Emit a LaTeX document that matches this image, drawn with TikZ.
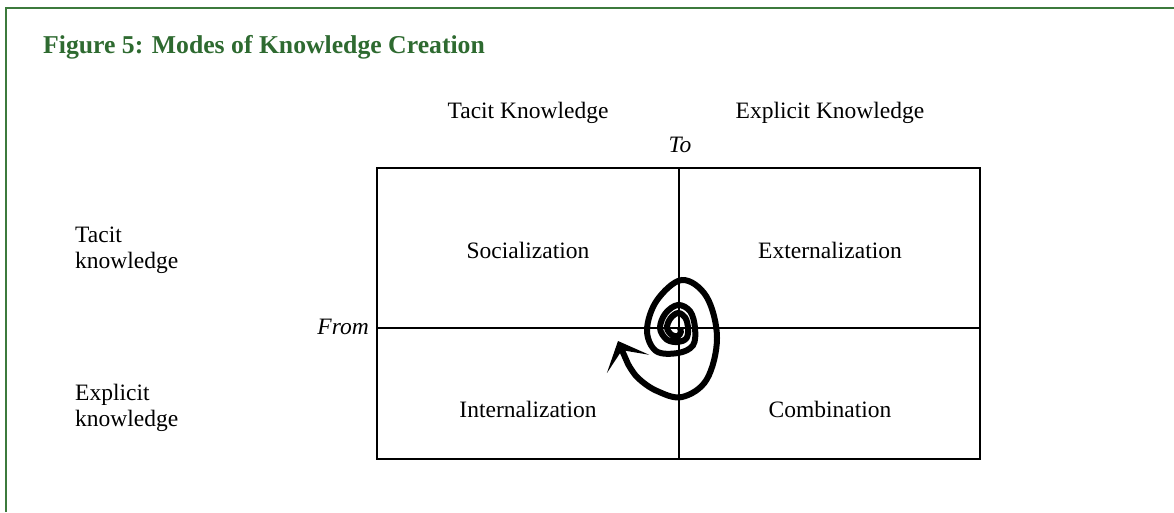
\documentclass[tikz,border=0pt]{standalone}
\usepackage{fontspec}
\setmainfont{Liberation Serif}
\usetikzlibrary{arrows.meta}
\definecolor{framegreen}{RGB}{60,122,60}
\definecolor{titlegreen}{RGB}{46,106,48}

\begin{document}
\begin{tikzpicture}[x=1pt,y=-1pt,font=\fontsize{23.5}{26}\selectfont,
    gridline/.style={line width=2.2pt},
    mode/.style={inner sep=0pt},
    side/.style={align=left,anchor=west,inner sep=0pt}]
    \useasboundingbox (0,0) rectangle (1174,512);

    % frame and title
    \draw[framegreen,line width=2pt] (6,512) -- (6,8) -- (1174,8);
    \node[anchor=west,inner sep=0pt,text=titlegreen,font=\fontsize{25.7}{30}\selectfont\bfseries] (title) at (43,47) {Figure 5: Modes of Knowledge Creation};

    % the matrix
    \coordinate (tl) at (377,168);
    \coordinate (br) at (980,459);
    \coordinate (mid) at (679,328);
    \draw[gridline] (tl) rectangle (br);
    \draw[gridline] (tl -| mid) -- (br -| mid);
    \draw[gridline] (tl |- mid) -- (br |- mid);

    \node[mode] (tacitTo) at (528,113) {Tacit Knowledge};
    \node[mode] (explicitTo) at (830,113) {Explicit Knowledge};
    \node[mode,font=\fontsize{23.5}{26}\selectfont\itshape] (to) at (680,145) {To};
    \node[mode,anchor=east,font=\fontsize{23.5}{26}\selectfont\itshape] (from) at (369,327) {From};

    \node[side] (tacitFrom) at (75,250) {Tacit\\knowledge};
    \node[side] (explicitFrom) at (75,408) {Explicit\\knowledge};

    \node[mode] (soc) at (528,250) {Socialization};
    \node[mode] (ext) at (830,250) {Externalization};
    \node[mode] (int) at (528,409) {Internalization};
    \node[mode] (com) at (830,409) {Combination};

    % knowledge spiral
    \draw[line width=6pt,-{Stealth[length=25pt,width=46pt,inset=15pt]}]
        plot[smooth,tension=0.6] coordinates {(680,328) (680.8,331.9) (678,336) (672,335.1)
        (667,328) (670.4,318.5) (678,313) (685.2,317.6) (688,328) (686.5,338.1) (678,342)
        (666.7,339.5) (660,328) (665.5,313.3) (678,305) (690.2,311.4) (695,328) (693,345.3)
        (678,353) (656,351) (647,330) (656.8,300.5) (682,280) (706.6,296.8) (717,338)
        (706.7,379.5) (682,397) (657,391) (638,378) (628,364)} -- (618,341);
\end{tikzpicture}
\end{document}
